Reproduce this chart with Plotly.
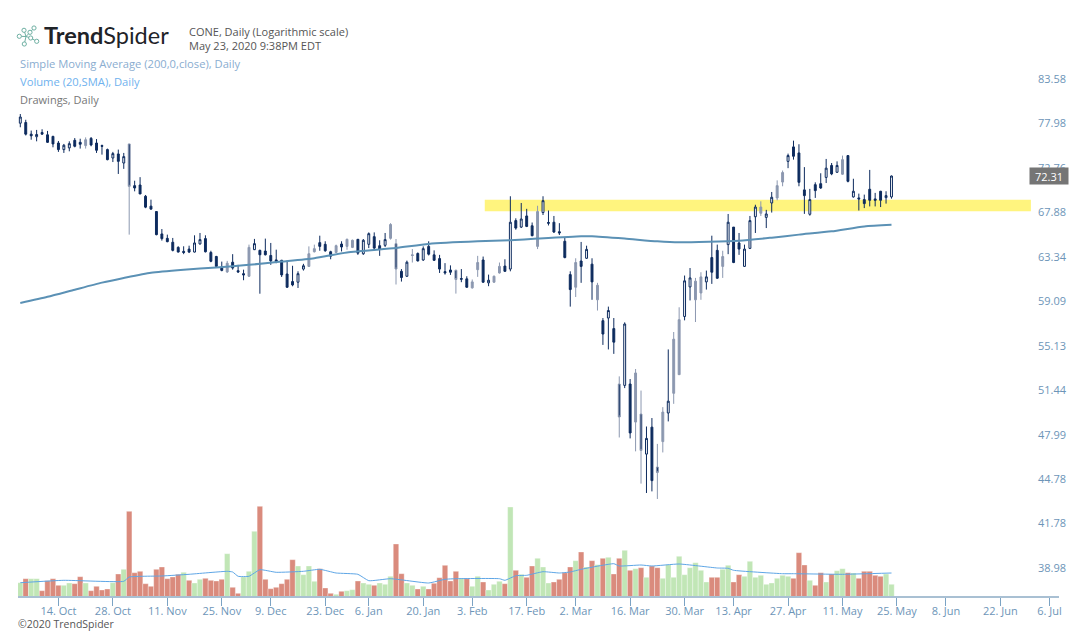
import math
import plotly.graph_objects as go

# daily candles, CONE, 3 Oct 2019 .. 22 May 2020
bar_high = [
    79.65,78.94,77.62,77.70,77.78,77.58,76.99,76.37,76.02,76.33,
    76.72,76.64,76.80,76.84,76.60,75.94,75.47,75.08,75.35,74.96,
    76.02,71.78,72.18,70.20,69.69,68.45,66.57,65.99,65.65,64.80,
    64.80,64.86,65.92,66.16,65.92,64.35,63.84,63.27,63.34,64.01,
    62.95,62.48,64.97,65.55,64.46,65.58,65.14,64.46,63.44,63.37,
    62.86,62.32,63.05,64.79,64.97,65.88,65.31,64.35,64.97,65.31,
    65.58,65.48,65.54,65.54,66.22,66.22,65.41,66.16,67.18,65.54,
    62.54,63.37,64.52,64.18,64.79,65.31,64.39,63.94,63.12,62.90,
    62.48,62.54,61.84,61.53,63.84,63.77,62.00,61.91,63.18,63.50,
    70.06,67.69,69.33,68.70,67.25,69.03,70.06,68.52,67.94,67.18,
    65.65,62.32,63.60,65.24,64.86,63.60,61.21,57.94,58.98,57.94,
    52.90,57.55,52.68,53.51,51.74,48.92,49.57,47.61,50.42,55.17,
    56.69,58.92,61.91,62.64,61.68,62.23,62.39,65.88,64.97,64.35,
    68.15,66.77,66.16,64.97,67.94,69.14,69.51,68.59,70.53,71.82,
    72.93,74.88,76.41,75.98,73.32,70.87,71.60,72.62,74.26,73.79,
    73.98,74.65,74.65,72.00,70.35,70.24,73.00,70.43,70.65,70.61,72.36,
]
bar_low = [
    78.02,77.03,76.52,76.33,77.11,76.13,75.62,75.08,74.96,75.15,
    75.62,75.47,75.47,75.74,74.96,74.76,74.10,73.90,72.54,73.12,
    65.99,70.60,70.31,68.77,68.59,65.92,65.38,65.21,64.29,64.18,
    64.01,64.12,64.18,64.97,64.18,63.21,62.70,62.32,62.16,62.48,
    62.16,61.46,61.77,64.42,60.18,63.88,62.95,63.11,61.77,60.72,
    60.88,60.72,62.39,62.74,64.18,64.35,64.25,63.50,64.11,64.28,
    64.45,64.62,63.94,63.94,64.62,64.45,63.84,64.73,65.48,61.05,
    61.33,61.78,63.18,63.28,63.34,63.88,63.34,62.16,62.00,61.97,
    60.19,61.27,60.73,60.66,61.78,61.21,60.89,61.21,62.10,62.26,
    62.32,66.50,66.67,66.77,65.82,64.52,68.04,66.94,66.16,65.95,
    63.60,58.98,59.87,61.21,63.54,59.61,58.62,55.56,55.17,54.79,
    48.09,51.94,48.02,47.06,44.75,44.10,44.21,43.69,46.98,49.31,
    50.68,53.04,57.73,59.55,57.58,59.61,60.57,61.11,61.59,61.68,
    64.01,63.12,63.94,62.74,64.52,66.16,67.94,66.67,68.30,69.62,
    71.16,73.20,74.18,71.16,68.16,67.97,69.88,70.87,71.52,72.40,
    72.70,72.44,71.60,69.91,68.52,68.78,68.96,68.96,68.89,69.26,69.80,
]
bar_open = [
    78.52,78.60,77.19,76.88,77.39,77.11,76.92,76.13,75.35,75.55,
    76.45,76.21,75.82,76.68,76.13,75.82,75.35,74.37,74.84,73.79,
    76.02,71.23,71.30,70.06,68.99,68.41,66.06,65.61,65.21,64.69,
    64.29,64.52,64.22,65.04,65.58,64.18,63.78,62.70,62.26,63.21,
    62.38,62.09,61.84,64.46,64.39,64.32,63.88,63.44,63.40,62.06,
    61.33,61.27,62.54,62.80,64.25,65.17,65.00,64.25,64.18,65.03,
    64.79,64.69,65.51,64.05,65.00,65.78,64.86,64.90,65.61,65.07,
    62.32,61.84,63.94,64.08,63.43,64.79,63.94,63.57,62.29,62.45,
    62.42,61.62,61.59,60.73,62.48,63.43,61.21,61.27,62.16,62.83,
    62.54,67.45,66.77,67.94,66.91,64.79,68.30,67.25,67.28,66.29,
    65.31,62.00,60.79,63.33,63.60,63.02,59.61,57.70,57.94,56.99,
    52.27,52.16,52.27,49.26,49.88,46.86,48.87,45.92,47.78,49.96,
    51.52,53.04,58.08,60.82,59.61,60.25,61.30,63.67,64.39,62.80,
    64.97,66.77,65.14,62.80,64.59,67.86,68.23,67.79,69.33,69.88,
    71.63,73.98,75.67,74.96,70.76,68.12,71.34,71.45,72.15,73.51,
    72.73,72.51,74.65,69.99,69.88,69.70,70.83,69.77,70.61,69.91,69.99,
]
bar_close = [
    79.28,77.19,76.99,77.15,77.19,76.21,76.02,75.35,75.86,76.05,
    75.74,75.98,76.52,75.90,75.27,75.74,74.18,74.88,73.98,74.53,
    71.15,70.97,70.31,68.88,68.67,65.99,65.58,65.27,64.39,64.22,
    64.18,64.22,65.14,65.48,64.25,63.30,62.80,62.41,63.11,62.64,
    62.26,61.97,64.69,65.07,63.95,63.95,63.34,63.27,61.97,60.79,
    61.01,62.09,62.86,64.05,64.56,64.79,64.35,63.81,64.86,64.73,
    65.51,65.41,64.11,65.41,66.09,64.62,64.52,65.48,67.04,62.54,
    61.72,63.21,63.88,63.34,64.56,64.01,63.40,62.54,62.16,62.23,
    61.53,61.56,60.79,61.30,63.18,61.27,61.46,61.84,62.80,62.32,
    67.28,66.67,67.62,66.84,65.88,68.41,69.58,67.18,66.26,66.16,
    63.67,60.57,63.18,62.80,64.49,61.30,60.98,56.51,58.62,55.80,
    49.65,57.40,48.43,53.18,47.13,48.02,44.96,45.54,50.03,50.89,
    56.06,57.79,61.40,61.68,61.37,61.78,61.78,62.23,61.65,63.77,
    67.28,63.18,64.52,64.52,67.45,68.89,68.89,68.15,69.95,71.23,
    72.70,74.65,74.57,71.60,70.13,69.70,70.68,70.97,73.20,72.55,
    73.51,74.18,71.71,70.61,69.77,69.26,69.62,69.62,69.62,70.13,72.31,
]
# bars that the screenshot shows washed out
soft_bars = [12,20,38,42,53,54,58,60,61,68,69,72,80,83,84,87,88,95,102,106,
             110,113,114,117,118,120,121,124,125,129,136,139,140,151]

# thousand shares
volume = [
    143,183,183,183,63,163,183,117,117,140,
    133,203,140,63,107,70,80,143,230,277,
    857,243,257,133,107,277,300,183,200,227,
    247,167,140,177,187,167,160,177,433,97,
    37,200,257,657,907,177,83,97,133,177,
    373,310,223,310,157,283,90,37,27,57,
    63,73,160,140,127,117,140,127,207,530,
    233,140,117,80,107,80,137,193,317,160,
    257,183,183,107,207,150,70,127,157,133,
    900,267,227,197,310,387,300,140,150,177,
    243,300,363,450,300,363,323,387,397,230,
    387,467,267,283,293,197,310,293,187,323,
    197,407,223,293,343,267,150,197,197,277,
    317,150,223,207,357,197,217,127,140,187,
    217,207,187,443,320,167,117,243,150,230,
    263,283,243,240,187,257,257,217,207,230,127,
]
volume_green = [0,2,3,8,9,12,17,19,30,32,33,38,41,42,43,51,52,53,54,58,60,61,63,64,
                66,67,68,71,72,74,81,83,84,86,87,88,90,92,95,96,97,102,104,106,108,
                111,113,115,118,119,120,121,122,123,124,125,126,129,130,133,134,135,
                136,137,138,139,140,141,145,148,150,151,153,159,160]

# 200 SMA, read every few bars
sma_bars = [0,5,10,15,19,24,30,36,42,48,54,60,69,75,84,90,95,103,105,111,117,121,132,138,143,149,155,160]
sma_price = [59.32,59.89,60.56,61.23,61.68,62.19,62.48,62.70,62.95,63.27,63.61,64.18,64.63,65.04,
             65.30,65.41,65.58,65.82,65.82,65.58,65.30,65.20,65.37,65.68,65.99,66.33,66.84,67.01]

# 20 SMA of volume
vol_sma_bars = [0,8,19,20,26,31,38,39,40,42,44,47,52,55,58,62,64,68,75,78,80,88,89,91,93,96,99,
                101,103,109,110,114,116,121,128,130,131,140,142,151,160]
vol_sma = [143,167,157,200,210,227,257,250,207,207,273,247,257,277,240,227,163,183,140,177,183,
           183,167,213,217,253,240,250,277,333,310,320,310,330,290,287,267,233,233,227,240]

y_ticks = [83.58,77.98,72.76,67.88,63.34,59.09,55.13,51.44,47.99,44.78,41.78,38.98]
x_tick_bars = [7,17,27,37,46,56,64,74,83,93,102,112,122,131,141,151,161,170,180,189]
x_tick_labels = ["14. Oct","28. Oct","11. Nov","25. Nov","9. Dec","23. Dec","6. Jan","20. Jan",
                 "3. Feb","17. Feb","2. Mar","16. Mar","30. Mar","13. Apr","27. Apr","11. May",
                 "25. May","8. Jun","22. Jun","6. Jul"]

band_low, band_high = 68.45, 69.69
band_start, band_end = 85.3, 185.6
last_price = 72.31

W, H = 1086, 638
LEFT, RIGHT, BOTTOM = 18, 1064, 597
NAVY = "#0d2b5e"
SOFT = "#8c98b0"
BLUE = "#6d95b8"


def px_x(v):
    return (v - LEFT) / (RIGHT - LEFT)


def px_y(v):
    return 1 - v / BOTTOM


def candles(idx, line, up_fill, down_fill):
    return go.Candlestick(
        x=idx,
        open=[bar_open[i] for i in idx],
        high=[bar_high[i] for i in idx],
        low=[bar_low[i] for i in idx],
        close=[bar_close[i] for i in idx],
        whiskerwidth=0,
        increasing=dict(line=dict(color=line, width=1), fillcolor=up_fill),
        decreasing=dict(line=dict(color=line, width=1), fillcolor=down_fill),
        hoverinfo="skip",
        showlegend=False,
    )


sharp = [i for i in range(len(bar_close)) if i not in soft_bars]
fig = go.Figure()
fig.add_trace(go.Bar(
    x=list(range(len(volume))), y=volume, yaxis="y2", width=1,
    marker=dict(color=["#c1e6b6" if i in volume_green else "#da8b7d" for i in range(len(volume))],
                line=dict(color="rgba(255,255,255,0.55)", width=0.6)),
    hoverinfo="skip", showlegend=False,
))
fig.add_trace(go.Scatter(x=vol_sma_bars, y=vol_sma, yaxis="y2", mode="lines",
                         line=dict(color="#5ea6e6", width=1, shape="spline", smoothing=0.4),
                         hoverinfo="skip", showlegend=False))
fig.add_trace(candles(sharp, NAVY, "#ffffff", NAVY))
fig.add_trace(candles(soft_bars, SOFT, SOFT, NAVY))
fig.add_trace(go.Scatter(x=sma_bars, y=sma_price, mode="lines",
                         line=dict(color="#5b91b5", width=2, shape="spline", smoothing=0.6),
                         hoverinfo="skip", showlegend=False))

# logo glyph
logo_dots = [(19.3,36.3),(24,30.3),(30,32.3),(34,28),(30.7,38),(36.7,41.3),(24.3,44)]
logo_links = [(24,30.3,26,36.5),(26,36.5,24.3,44),(19.3,36.3,26,36.5),(26,36.5,30,32.3),
              (30,32.3,34,28),(26,36.5,30.7,38),(30.7,38,36.7,41.3)]
shapes = [dict(type="rect", layer="below", xref="x", yref="y", x0=band_start, x1=band_end,
               y0=band_low, y1=band_high, fillcolor="#fff47e", line_width=0),
          dict(type="line", xref="paper", yref="paper", x0=0, x1=px_x(1059), y0=0, y1=0,
               line=dict(color="#a9c0d3", width=2))]
for x0, y0, x1, y1 in logo_links:
    shapes.append(dict(type="line", xref="paper", yref="paper", x0=px_x(x0), x1=px_x(x1),
                       y0=px_y(y0), y1=px_y(y1), line=dict(color="#6fb0a3", width=1)))
for cx, cy in logo_dots:
    shapes.append(dict(type="circle", xref="paper", yref="paper", x0=px_x(cx-2.1), x1=px_x(cx+2.1),
                       y0=px_y(cy+2.1), y1=px_y(cy-2.1), fillcolor="white",
                       line=dict(color="#6fb0a3", width=1)))


def note(x, y, text, color, size=11, family="Open Sans"):
    return dict(xref="paper", yref="paper", x=px_x(x), y=px_y(y), text=text, showarrow=False,
                xanchor="left", yanchor="middle", align="left",
                font=dict(color=color, size=size, family=family), borderpad=0, borderwidth=0)


annotations = [
    note(44, 35, "<b>Trend</b>Spider", "#1f2328", 23.5, "Lato"),
    note(189, 38, "CONE, Daily (Logarithmic scale)<br>May 23, 2020 9:38PM EDT", "#555555"),
    note(20, 64, "Simple Moving Average (200,0,close), Daily", "#8aadd0", 11.2),
    note(20, 82, "Volume (20,SMA), Daily", "#6fb2ee", 11.2),
    note(20, 100, "Drawings, Daily", "#777777"),
    note(18, 624, "©2020 TrendSpider", "#555555", 10.5),
    dict(xref="paper", yref="y", x=px_x(1049), y=math.log10(last_price), text=f"{last_price:.2f}",
         showarrow=False, xanchor="center", yanchor="middle", bgcolor="#757575", width=38, height=16,
         borderpad=0, font=dict(color="white", size=11, family="Open Sans")),
]

# price at top and bottom of the plot, 0.156 % per pixel around the last close
rate = 0.00156
close_px = 176
price_top = last_price * math.exp(rate * close_px)
price_bottom = last_price * math.exp(-rate * (BOTTOM - close_px))

fig.update_layout(
    width=W, height=H,
    margin=dict(l=LEFT, r=W - RIGHT, t=0, b=H - BOTTOM),
    paper_bgcolor="white", plot_bgcolor="white",
    bargap=0.1, boxgap=0.5, shapes=shapes, annotations=annotations,
    font=dict(family="Open Sans", size=11, color=BLUE),
    xaxis=dict(
        range=[(LEFT - 20.3) / 5.445, (RIGHT - 20.3) / 5.445],
        rangeslider=dict(visible=False),
        tickmode="array", tickvals=x_tick_bars, ticktext=x_tick_labels,
        ticks="outside", ticklen=8, tickcolor="#7ba3c4", tickwidth=1, ticklabelstandoff=-4,
        showgrid=False, zeroline=False, showline=False,
        tickfont=dict(color=BLUE, size=11),
    ),
    yaxis=dict(
        type="log", side="right",
        range=[math.log10(price_bottom), math.log10(price_top)],
        tickmode="array", tickvals=y_ticks, ticktext=[f"{v:.2f}" for v in y_ticks],
        ticklabelshift=-4, ticklabelstandoff=-27,
        showgrid=False, zeroline=False, showline=False, ticks="",
        tickfont=dict(color=BLUE, size=11),
    ),
    yaxis2=dict(overlaying="y", range=[0, BOTTOM * 10], visible=False),
)

fig.write_html("out.html", config={"displayModeBar": False},
               post_script="document.body.style.margin='0';")
